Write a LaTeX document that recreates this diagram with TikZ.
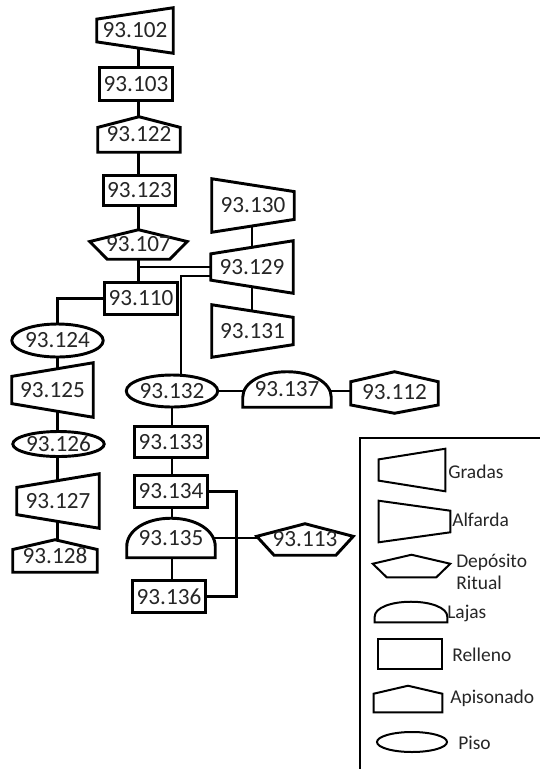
\documentclass[tikz,border=0pt]{standalone}
\usepackage{fontspec}
\setmainfont{Carlito}
\usepackage{tikz}
\usetikzlibrary{calc,shapes.geometric}
\pgfdeclarelayer{back}
\pgfdeclarelayer{outl}
\pgfsetlayers{back,outl,main}
\tikzset{
  px/.style 2 args={minimum width=#1*0.75pt,minimum height=#2*0.75pt},
  unit/.style={inner sep=0pt,font=\fontsize{17.4}{20}\selectfont,text=black!85},
  free/.style={unit,rectangle},
  piso/.style={unit,ellipse,draw,fill=white,line width=2.2pt},
  outline/.style={draw,fill=white,line width=2.2pt},
  conn/.style={line width=2pt},
  legtxt/.style={font=\fontsize{14.6}{16}\selectfont,text=black!85,anchor=west,inner sep=0pt,align=left},
}

\begin{document}
\begin{tikzpicture}[x=0.75pt,y=-0.75pt]
    \useasboundingbox (0,0) rectangle (540,769);
    % main column
    \node[free,px={76}{45}] (n102) at (135,30.5) {93.102};
    \node[free,px={72}{32}] (n103) at (136,84) {93.103};
    \node[free,px={82}{35}] (n122) at (139,134.5) {93.122};
    \node[free,px={71}{30}] (n123) at (139.5,190.5) {93.123};
    \node[free,px={97}{29}] (n107) at (138.5,244.5) {93.107};
    \node[free,px={72}{31}] (n110) at (141,298.5) {93.110};
    % right column
    \node[free,px={82}{53}] (n130) at (253,205.5) {93.130};
    \node[free,px={82}{52}] (n129) at (252,267) {93.129};
    \node[free,px={81}{52}] (n131) at (252.5,331) {93.131};
    % left column
    \node[piso,px={89}{33}] (n124) at (57.5,340.5) {93.124};
    \node[free,px={81}{54}] (n125) at (52.5,390) {93.125};
    \node[piso,px={87}{25}] (n126) at (58.5,444) {93.126};
    \node[free,px={82}{54}] (n127) at (58,501) {93.127};
    \node[free,px={84}{32}] (n128) at (55,556) {93.128};
    % lower column
    \node[piso,px={90}{32}] (n132) at (172,391) {93.132};
    \node[free,px={88}{35}] (n137) at (287,389.5) {93.137};
    \node[free,px={87}{41}] (n112) at (394.5,392.5) {93.112};
    \node[free,px={72}{30}] (n133) at (171,442) {93.133};
    \node[free,px={72}{31}] (n134) at (171,491.5) {93.134};
    \node[free,px={88}{39}] (n135) at (171,538) {93.135};
    \node[free,px={96}{31}] (n113) at (305,539.5) {93.113};
    \node[free,px={72}{31}] (n136) at (169,596.5) {93.136};
    % legend
    \draw[line width=2pt] (360,772) -- (360,438) -- (542,438);
    \node[free,px={66}{42}] (lgGradas) at (412,470) {};
    \node[free,px={71}{41}] (lgAlfarda) at (414.5,521.5) {};
    \node[free,px={77}{22}] (lgDeposito) at (411.5,566) {};
    \node[free,px={72}{20}] (lgLajas) at (411,612) {};
    \node[free,px={64}{30}] (lgRelleno) at (410,654) {};
    \node[free,px={68}{26}] (lgApisonado) at (408,699) {};
    \node[piso,px={70}{20},line width=1.5pt] (lgPiso) at (412,742) {};
    \node[legtxt] (tGradas) at (448,472) {Gradas};
    \node[legtxt] (tAlfarda) at (452,520) {Alfarda};
    \node[legtxt] (tDeposito) at (456,572) {Depósito\\Ritual};
    \node[legtxt] (tLajas) at (447,613) {Lajas};
    \node[legtxt] (tRelleno) at (452,655) {Relleno};
    \node[legtxt] (tApisonado) at (450,698) {Apisonado};
    \node[legtxt] (tPiso) at (458,743) {Piso};

    \begin{pgfonlayer}{outl}
      % relleno
      \foreach \n/\w in {n103/2.2pt,n123/2.2pt,n110/2.2pt,n133/2.2pt,n134/2.2pt,n136/2.2pt,lgRelleno/1.7pt}
        \draw[outline,line width=\w] (\n.south west) rectangle (\n.north east);
      % gradas
      \foreach \n/\w in {n102/2.2pt,n125/2.2pt,n127/2.2pt,n129/2.2pt,lgGradas/1.5pt}
        \draw[outline,line width=\w] ($(\n.north west)!0.25!(\n.south west)$) -- (\n.north east)
          -- (\n.south east) -- ($(\n.south west)!0.25!(\n.north west)$) -- cycle;
      % alfarda
      \foreach \n/\w in {n130/2.2pt,n131/2.2pt,lgAlfarda/1.5pt}
        \draw[outline,line width=\w] (\n.north west) -- ($(\n.north east)!0.24!(\n.south east)$)
          -- ($(\n.south east)!0.24!(\n.north east)$) -- (\n.south west) -- cycle;
      % deposito ritual
      \foreach \n/\w in {n107/2.2pt,n113/2.2pt,lgDeposito/1.5pt}
        \draw[outline,line width=\w] (\n.north) -- ($(\n.north east)!0.4!(\n.south east)$)
          -- ($(\n.south west)!0.82!(\n.south east)$) -- ($(\n.south west)!0.18!(\n.south east)$)
          -- ($(\n.north west)!0.4!(\n.south west)$) -- cycle;
      % apisonado
      \foreach \n/\w in {n122/2.2pt,n128/2.2pt,lgApisonado/1.5pt}
        \draw[outline,line width=\w] (\n.south west) -- ($(\n.north west)!0.3!(\n.south west)$)
          -- (\n.north) -- ($(\n.north east)!0.3!(\n.south east)$) -- (\n.south east) -- cycle;
      % lajas
      \foreach \n/\w in {n137/2.2pt,n135/2.2pt,lgLajas/1.5pt}
        \draw[outline,line width=\w] (\n.south west) -- ($(\n.south west)!0.28!(\n.north west)$)
          .. controls ($(\n.south west)!0.7!(\n.north west)$) and ($(\n.north west)!0.22!(\n.north east)$) .. (\n.north)
          .. controls ($(\n.north east)!0.22!(\n.north west)$) and ($(\n.south east)!0.7!(\n.north east)$) .. ($(\n.south east)!0.28!(\n.north east)$)
          -- (\n.south east) -- cycle;
      % hexagon
      \draw[outline] (n112.north) -- ($(n112.north east)!0.24!(n112.south east)$)
        -- ($(n112.south east)!0.2!(n112.north east)$) -- (n112.south)
        -- ($(n112.south west)!0.2!(n112.north west)$) -- ($(n112.north west)!0.24!(n112.south west)$) -- cycle;
    \end{pgfonlayer}

    \begin{pgfonlayer}{back}
      \foreach \a/\b in {n102/n103,n103/n122,n122/n123,n123/n107,n107/n110}
        \draw[conn] (\a.center -| n107.center) -- (\b.center -| n107.center);
      \foreach \a/\b in {n130/n129,n129/n131}
        \draw[conn] (\a.center -| n129.center) -- (\b.center -| n129.center);
      \foreach \a/\b in {n124/n125,n125/n126,n126/n127,n127/n128}
        \draw[conn] (\a.center -| n124.center) -- (\b.center -| n124.center);
      \foreach \a/\b in {n132/n133,n133/n134,n134/n135,n135/n136}
        \draw[conn] (\a.center -| n132.center) -- (\b.center -| n132.center);
      \foreach \a/\b in {n132/n137,n137/n112}
        \draw[conn] (\a.center |- n132.center) -- (\b.center |- n132.center);
      \draw[conn] (n129.center) -- (n129.center -| n107.center);
      \draw[conn] ($(n129.center)+(0,9)$) -| ($(n132.center)+(9,0)$);
      \draw[conn] (n110.center) -| (n124.center);
      \draw[conn] (n135.center) -- (n135.center -| n113.center);
      \draw[conn] (n134.east) -| ($(n136.east)+(31,0)$) -- (n136.east);
    \end{pgfonlayer}
\end{tikzpicture}
\end{document}
